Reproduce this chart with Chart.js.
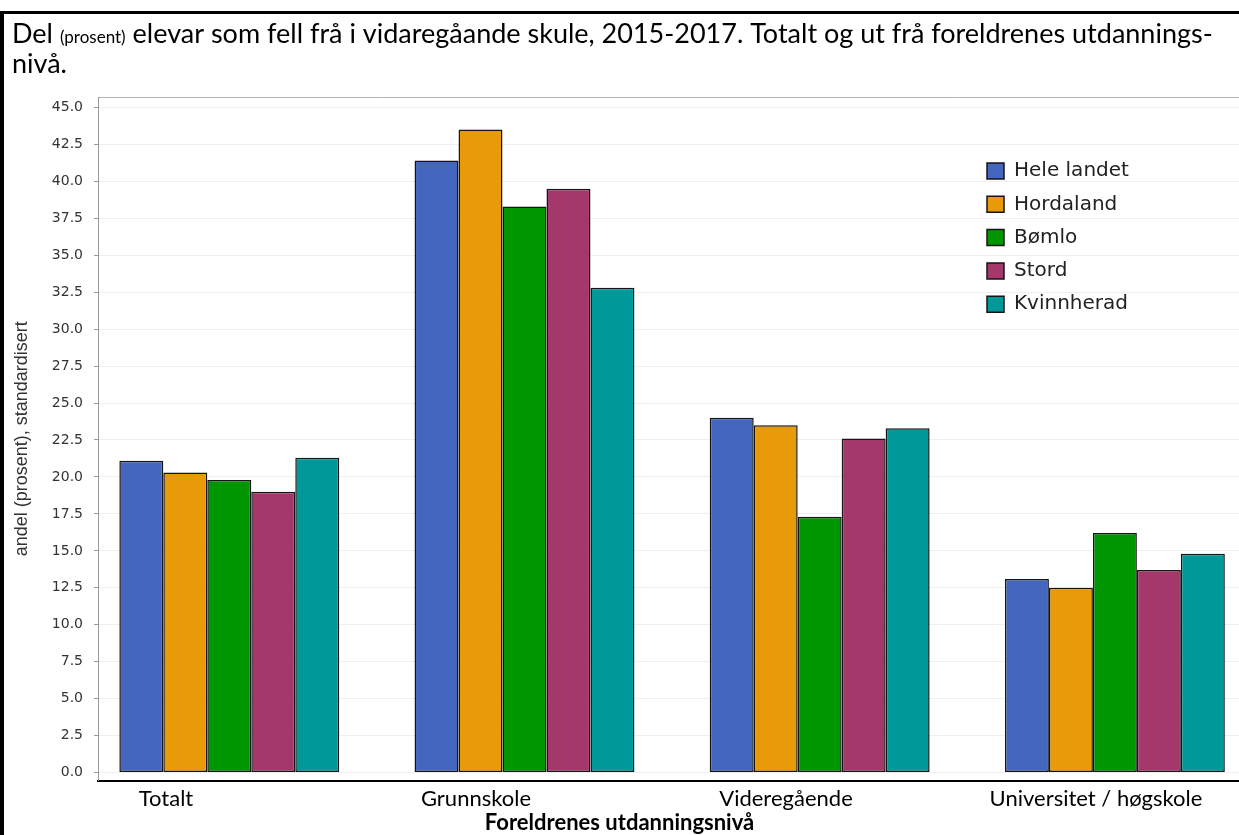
<!DOCTYPE html>
<html lang="nn">
<head>
<meta charset="utf-8">
<title>Fråfall i vidaregåande skule, 2015-2017</title>
<script src="https://cdn.jsdelivr.net/npm/chart.js@4.4.1/dist/chart.umd.min.js"></script>
<style>
  html, body { margin: 0; padding: 0; background: #fff; overflow: hidden; }
  #wrap { position: relative; width: 1239px; height: 835px; }
  #frame {
    position: absolute; left: 0; top: 11px; width: 1300px; height: 900px;
    border-left: 4px solid #000; border-top: 3px solid #000;
    box-sizing: border-box; pointer-events: none;
  }
  canvas { display: block; }
</style>
</head>
<body>
<div id="wrap">
  <canvas id="chart" width="1239" height="835"></canvas>
  <div id="frame"></div>
</div>
<script>
// Utdanningsnivå til foreldra (kategoriar på x-aksen)
const categories = ['Totalt', 'Grunnskole', 'Videregående', 'Universitet / høgskole'];

// Seriar: del (prosent) elevar som fell frå, standardisert
const seriesNames = ['Hele landet', 'Hordaland', 'Bømlo', 'Stord', 'Kvinnherad'];
const heleLandet = [21.1, 41.4, 24.0, 13.1];
const hordaland  = [20.3, 43.5, 23.5, 12.5];
const bomlo      = [19.8, 38.3, 17.3, 16.2];
const stord      = [19.0, 39.5, 22.6, 13.7];
const kvinnherad = [21.3, 32.8, 23.3, 14.8];

// Verdiane på y-aksen
const yTickValues = [0, 2.5, 5, 7.5, 10, 12.5, 15, 17.5, 20, 22.5, 25, 27.5, 30, 32.5, 35, 37.5, 40, 42.5, 45];

// Tittel (med mindre skrift for «(prosent)»)
const headingParts = ['Del ', '(prosent)', ' elevar som fell frå i vidaregåande skule, 2015-2017. Totalt og ut frå foreldrenes utdannings-'];
const headingLine2 = 'nivå.';
const yAxisTitle = 'andel (prosent), standardisert';
const xAxisTitle = 'Foreldrenes utdanningsnivå';

const seriesValues = [heleLandet, hordaland, bomlo, stord, kvinnherad];
const seriesColours = ['#4466bf', '#e99a08', '#009600', '#a5386b', '#009999'];

const docFont = 'Lato, "Open Sans", sans-serif';

// Teiknar tittelen øvst, med to skriftstorleikar på første linja
const headingPlugin = {
  id: 'heading',
  afterDraw(chart, args, opts) {
    const ctx = chart.ctx;
    ctx.save();
    ctx.fillStyle = '#000';
    ctx.textBaseline = 'alphabetic';
    ctx.textAlign = 'left';
    let x = opts.x;
    headingParts.forEach((part, i) => {
      const size = i === 1 ? opts.smallSize : opts.size;
      ctx.font = size + 'px ' + docFont;
      ctx.fillText(part, x, opts.y1);
      x += ctx.measureText(part).width;
    });
    ctx.font = opts.size + 'px ' + docFont;
    ctx.fillText(headingLine2, opts.x, opts.y2);
    ctx.restore();
  }
};

// Flyttar forklaringa inn i plottet, oppe til høgre
const legendPlacement = {
  id: 'legendPlacement',
  afterLayout(chart, args, opts) {
    const lg = chart.legend;
    if (!lg) return;
    const pad = lg.options.labels.padding;
    lg.left = opts.x - pad;
    lg.top = opts.y - pad;
    lg.right = lg.left + 400;
    lg.bottom = lg.top + 400;
  }
};

Chart.defaults.font.family = '"Liberation Sans", Arial, sans-serif';

new Chart(document.getElementById('chart'), {
  type: 'bar',
  data: {
    datasets: seriesNames.map((name, k) => ({
      label: name,
      data: seriesValues[k].map((v, i) => ({ x: i, y: v })),
      backgroundColor: seriesColours[k],
      borderColor: '#151515',
      borderWidth: 1.5,
      borderSkipped: false,
      xAxisID: 'x',
      yAxisID: 'y'
    }))
  },
  plugins: [headingPlugin, legendPlacement],
  options: {
    responsive: false,
    animation: false,
    devicePixelRatio: 1,
    layout: { padding: { top: 97, left: 0, right: 0, bottom: 0 } },
    datasets: { bar: { categoryPercentage: 0.745, barPercentage: 1.0 } },
    scales: {
      // plassering av søylegruppene (ingen tekst, berre øvre ramme)
      x: {
        type: 'linear',
        position: 'top',
        offset: false,
        min: -0.4448,
        max: 3.4205,
        afterBuildTicks: (s) => { s.ticks = categories.map((c, i) => ({ value: i })); },
        ticks: { display: false },
        grid: { display: false, drawTicks: false },
        border: { display: true, color: '#b4b4b4', width: 1 }
      },
      // kategorinamna under plottet
      xl: {
        type: 'linear',
        position: 'bottom',
        offset: false,
        min: -0.2194,
        max: 3.4613,
        afterBuildTicks: (s) => { s.ticks = categories.map((c, i) => ({ value: i })); },
        ticks: {
          callback: (value, index) => categories[index],
          font: { family: docFont, size: 22, lineHeight: 1.2 },
          color: '#000',
          padding: 5,
          maxRotation: 0,
          autoSkip: false
        },
        grid: { display: false, drawTicks: false },
        border: { display: true, color: '#000', width: 2 }
      },
      y: {
        type: 'linear',
        position: 'left',
        min: -0.54,
        max: 45.7,
        afterBuildTicks: (s) => { s.ticks = yTickValues.map(v => ({ value: v })); },
        afterFit: (s) => { s.width = 98; },
        ticks: {
          callback: (v) => Number(v).toFixed(1),
          font: { family: '"DejaVu Sans", sans-serif', size: 14 },
          color: '#333',
          padding: 11
        },
        grid: {
          color: '#efefef',
          lineWidth: 1,
          drawTicks: true,
          tickLength: 4,
          tickColor: '#9a9a9a'
        },
        border: { display: true, color: '#9a9a9a', width: 1 },
        title: {
          display: true,
          text: yAxisTitle,
          font: { size: 18, lineHeight: 1.2 },
          color: '#333',
          padding: { top: 11, bottom: 0 }
        }
      }
    },
    plugins: {
      heading: { x: 12, y1: 43, y2: 73, size: 27, smallSize: 17 },
      legendPlacement: { x: 987, y: 161 },
      legend: {
        position: 'chartArea',
        align: 'start',
        labels: {
          boxWidth: 17,
          boxHeight: 16,
          padding: 13.3,
          color: '#222',
          font: { family: '"DejaVu Sans", sans-serif', size: 20 }
        }
      },
      title: { display: false },
      subtitle: {
        display: true,
        position: 'bottom',
        text: xAxisTitle,
        color: '#000',
        font: { family: docFont, size: 22, weight: 'bold', lineHeight: 1 },
        padding: { top: -5, bottom: 1 }
      },
      tooltip: { enabled: false }
    }
  }
});
</script>
</body>
</html>
